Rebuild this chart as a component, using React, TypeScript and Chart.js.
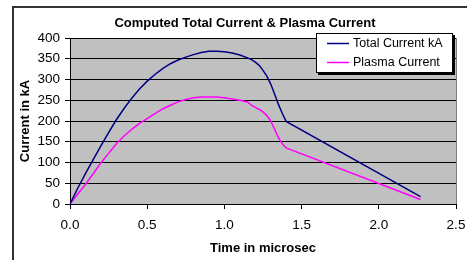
import React, { useEffect, useRef } from "react";
import { Chart, registerables } from "chart.js";

Chart.register(...registerables);

const timeUs = [0, 0.05, 0.1, 0.15, 0.2, 0.25, 0.3, 0.35, 0.4, 0.45, 0.5, 0.55, 0.6, 0.65, 0.7, 0.75, 0.8, 0.85, 0.9, 0.95, 1.0, 1.05, 1.1, 1.15, 1.175, 1.2, 1.225, 1.25, 1.275, 1.3, 1.325, 1.35, 1.375, 1.4, 2.27];
const totalCurrent = [0, 38, 73, 107, 140, 172, 203, 230, 255, 277, 296, 312, 326, 338, 347, 354, 360, 365, 368, 368, 367, 364, 359, 352, 348, 342, 334, 322, 308, 289, 265, 240, 218, 199, 18];
const plasmaCurrent = [0, 24, 47, 73, 99, 122, 145, 164, 180, 194, 206, 218, 229, 238, 246, 252, 256, 258, 258, 258, 256, 253, 250, 246, 238, 233, 228, 222, 213, 200, 180, 160, 145, 135, 11];

const seriesNames = ["Total Current kA", "Plasma Current"];
const seriesColors = ["#000080", "#ff00ff"];
const chartTitle = "Computed Total Current & Plasma Current";
const xTitle = "Time in microsec";
const yTitle = "Current in kA";

const FONT = "'Liberation Sans', Arial, sans-serif";

const decorPlugin = {
  id: "decor",
  beforeDraw(chart: any) {
    const { ctx, chartArea: a } = chart;
    ctx.save();
    ctx.fillStyle = "#ffffff";
    ctx.fillRect(0, 0, chart.width, chart.height);
    // outer frame (left & top)
    ctx.strokeStyle = "#333333";
    ctx.lineWidth = 2;
    ctx.beginPath();
    ctx.moveTo(13, chart.height);
    ctx.lineTo(13, 7);
    ctx.lineTo(chart.width, 7);
    ctx.stroke();
    // plot background
    ctx.fillStyle = "#c0c0c0";
    ctx.fillRect(a.left, a.top, a.right - a.left, a.bottom - a.top);
    ctx.strokeStyle = "#808080";
    ctx.lineWidth = 1;
    ctx.beginPath();
    ctx.moveTo(Math.round(a.right) + 0.5, a.top);
    ctx.lineTo(Math.round(a.right) + 0.5, a.bottom);
    ctx.stroke();
    // title
    ctx.fillStyle = "#000000";
    ctx.font = `bold 13px ${FONT}`;
    ctx.textAlign = "center";
    ctx.textBaseline = "middle";
    ctx.fillText(chartTitle, 245, 23);
    ctx.restore();
  },
  afterDraw(chart: any) {
    const { ctx } = chart;
    ctx.save();
    const x0 = 316, y0 = 33, w = 137, h = 40;
    ctx.fillStyle = "#000000";
    ctx.fillRect(x0 + 2, y0 + 2, w, h);
    ctx.fillStyle = "#ffffff";
    ctx.fillRect(x0, y0, w, h);
    ctx.strokeStyle = "#000000";
    ctx.lineWidth = 1;
    ctx.strokeRect(x0 + 0.5, y0 + 0.5, w - 1, h - 1);
    ctx.font = `12.5px ${FONT}`;
    ctx.textAlign = "left";
    ctx.textBaseline = "middle";
    chart.data.datasets.forEach((ds: any, i: number) => {
      const y = 43.5 + i * 19;
      ctx.strokeStyle = ds.borderColor;
      ctx.lineWidth = 1.5;
      ctx.beginPath();
      ctx.moveTo(327, y);
      ctx.lineTo(349, y);
      ctx.stroke();
      ctx.fillStyle = "#000000";
      ctx.fillText(ds.label, 353, y);
    });
    ctx.restore();
  },
};

export default function App() {
  const ref = useRef<HTMLCanvasElement | null>(null);
  useEffect(() => {
    if (!ref.current) return;
    const chart = new Chart(ref.current, {
      type: "line",
      data: {
        datasets: [
          {
            label: seriesNames[0],
            data: timeUs.map((t, i) => ({ x: t, y: totalCurrent[i] })),
            borderColor: seriesColors[0],
            borderWidth: 1.5,
            pointRadius: 0,
            tension: 0,
            fill: false,
          },
          {
            label: seriesNames[1],
            data: timeUs.map((t, i) => ({ x: t, y: plasmaCurrent[i] })),
            borderColor: seriesColors[1],
            borderWidth: 1.5,
            pointRadius: 0,
            tension: 0,
            fill: false,
          },
        ],
      },
      plugins: [decorPlugin],
      options: {
        animation: false,
        responsive: false,
        devicePixelRatio: 1,
        layout: { padding: { top: 38, right: 11, left: 0, bottom: 0 } },
        plugins: {
          legend: { display: false },
          title: { display: false },
          tooltip: { enabled: false },
        },
        scales: {
          x: {
            type: "linear",
            min: 0,
            max: 2.5,
            ticks: {
              stepSize: 0.5,
              padding: 8,
              color: "#000",
              font: { family: FONT, size: 13.5 },
              callback: (v: any) => Number(v).toFixed(1),
              maxRotation: 0,
            },
            grid: { drawOnChartArea: false, drawTicks: true, tickLength: 5, color: "#000" },
            border: { color: "#000", width: 1 },
            title: {
              display: true,
              text: xTitle,
              color: "#000",
              font: { family: FONT, size: 13, weight: "bold" },
              padding: { top: 0, bottom: 4 },
            },
            afterFit: (s: any) => {
              s.height = 56;
              s.paddingLeft = 0;
              s.paddingRight = 0;
            },
          },
          y: {
            min: 0,
            max: 400,
            ticks: {
              stepSize: 50,
              padding: 5,
              color: "#000",
              font: { family: FONT, size: 13.5 },
            },
            grid: { color: "#000", tickLength: 5 },
            border: { color: "#000", width: 1 },
            title: {
              display: true,
              text: yTitle,
              color: "#000",
              font: { family: FONT, size: 13, weight: "bold" },
              padding: { top: 18, bottom: 0 },
            },
            afterFit: (s: any) => { s.width = 70; },
          },
        },
      },
    });
    return () => chart.destroy();
  }, []);
  return (
    <div style={{ position: "absolute", left: 0, top: 0, width: 467, height: 260, background: "#fff" }}>
      <canvas ref={ref} width={467} height={260} style={{ display: "block" }} />
    </div>
  );
}
